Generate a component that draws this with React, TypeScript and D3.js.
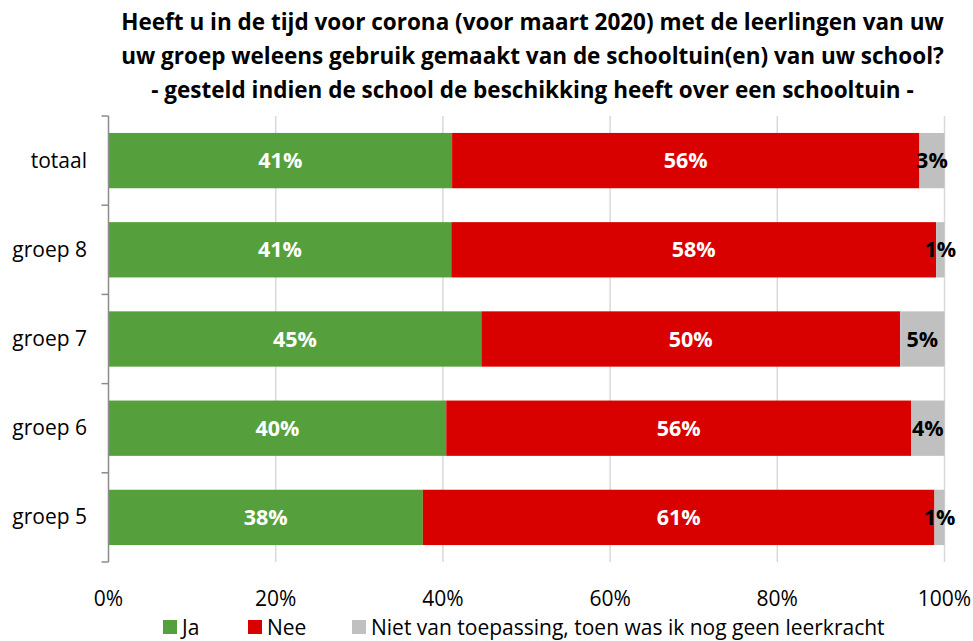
import React from "react";
import * as d3 from "d3";

const categories = ["totaal", "groep 8", "groep 7", "groep 6", "groep 5"];
const seriesNames = ["Ja", "Nee", "Niet van toepassing, toen was ik nog geen leerkracht"];
const ja = [41.1, 41.0, 44.6, 40.4, 37.6];
const nee = [55.9, 58.0, 50.1, 55.6, 61.2];
const niet = [3.0, 1.0, 5.3, 4.0, 1.2];
const xTicks = [0, 20, 40, 60, 80, 100];
const titleLines = [
  "Heeft u in de tijd voor corona (voor maart 2020) met de leerlingen van uw",
  "uw groep weleens gebruik gemaakt van de schooltuin(en) van uw school?",
  "- gesteld indien de school de beschikking heeft over een schooltuin -",
];
const colors = ["#55a03c", "#d90000", "#c0c0c0"];
const labelColors = ["#ffffff", "#ffffff", "#000000"];

const W = 973, H = 641;
const left = 108.5, right = 944.5, top = 116, bottom = 562;
const font = "'Open Sans', sans-serif";

export default function App() {
  const x = d3.scaleLinear().domain([0, 100]).range([left, right]);
  const y = d3.scaleBand<string>().domain(categories).range([top, bottom]).paddingInner(0.38).paddingOuter(0.19);
  const rows = categories.map((c, i) => ({ c, v: [ja[i], nee[i], niet[i]] }));
  const stack = d3.stack<any, string>().keys(["0", "1", "2"]).value((d, k) => d.v[+k]);
  const series = stack(rows as any);
  const bounds = d3.range(categories.length + 1).map((i) => top + (i * (bottom - top)) / categories.length);
  return (
    <svg width={W} height={H} style={{ position: "absolute", left: 0, top: 0, fontFamily: font }}>
      <rect width={W} height={H} fill="#fff" />
      {titleLines.map((t, i) => (
        <text key={i} x={532.5} y={30 + i * 34} textAnchor="middle" fontSize={22.5} fontWeight="bold" fill="#000">
          {t}
        </text>
      ))}
      {xTicks.slice(1).map((t) => (
        <line key={t} x1={x(t)} x2={x(t)} y1={top} y2={bottom} stroke="#d9d9d9" strokeWidth={1.5} />
      ))}
      {series.map((s, si) =>
        s.map((d: any, i: number) => (
          <rect key={si + "-" + i} x={x(d[0])} y={y(categories[i])} width={x(d[1]) - x(d[0])} height={y.bandwidth()} fill={colors[si]} />
        ))
      )}
      {series.map((s, si) =>
        s.map((d: any, i: number) => (
          <text key={"l" + si + "-" + i} x={(x(d[0]) + x(d[1])) / 2} y={(y(categories[i]) as number) + y.bandwidth() / 2 + 7.5}
            textAnchor="middle" fontSize={21.5} fontWeight="bold" fill={labelColors[si]}>
            {Math.round(d[1] - d[0]) + "%"}
          </text>
        ))
      )}
      <line x1={left} x2={left} y1={top} y2={bottom} stroke="#8c8c8c" strokeWidth={1.5} />
      {bounds.map((b, i) => (
        <line key={i} x1={left - 7} x2={left} y1={b} y2={b} stroke="#8c8c8c" strokeWidth={1.5} />
      ))}
      {categories.map((c) => (
        <text key={c} x={87} y={(y(c) as number) + y.bandwidth() / 2 + 7} textAnchor="end" fontSize={21} fill="#000">
          {c}
        </text>
      ))}
      {xTicks.map((t) => (
        <text key={t} x={x(t)} y={606} textAnchor="middle" fontSize={21} fill="#000">
          {t + "%"}
        </text>
      ))}
      {[163, 248, 352].map((lx, i) => (
        <g key={i}>
          <rect x={lx} y={620} width={14} height={14} fill={colors[i]} />
          <text x={lx + 19} y={634.5} fontSize={21} fill="#000">{seriesNames[i]}</text>
        </g>
      ))}
    </svg>
  );
}
